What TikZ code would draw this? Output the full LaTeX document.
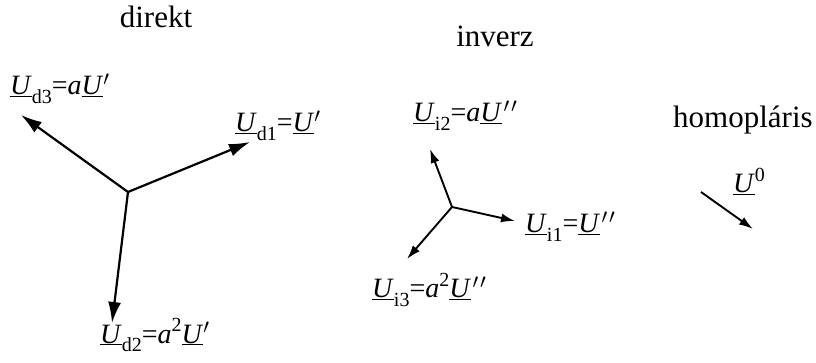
\documentclass[tikz,border=0pt]{standalone}
\usepackage{fontspec}
\setmainfont{Liberation Serif}
\usetikzlibrary{arrows.meta}
\newcommand{\uU}{\underline{\textit{U}}}
\newcommand{\lbsub}[1]{\raisebox{-0.3em}{\fontsize{20}{22}\selectfont #1}}
\newcommand{\lbsup}[1]{\raisebox{0.4em}{\fontsize{20}{22}\selectfont #1}}
\newcommand{\dprime}{\kern1.5pt\ensuremath{'}\kern1.5pt\ensuremath{'}}
\begin{document}
\begin{tikzpicture}[x=1pt,y=-1pt,
  title/.style={font=\fontsize{31}{34}\selectfont, inner sep=0pt, anchor=base},
  lab/.style={font=\fontsize{28}{32}\selectfont, inner sep=0pt, anchor=base west},
  bigvec/.style={line width=2.2pt, -{Latex[length=21pt,width=13pt]}},
  smallvec/.style={line width=1.9pt, -{Latex[length=14pt,width=9pt]}}]
\useasboundingbox (0,0) rectangle (816,363);
% titles
\node[title] (tdir) at (156,28) {direkt};
\node[title] (tinv) at (495,47) {inverz};
\node[title, anchor=base west] (thom) at (673,128) {homopláris};
% direkt
\coordinate (cd) at (128,192);
\coordinate (d1) at (250,142);
\coordinate (d2) at (112,323);
\coordinate (d3) at (21,115);
\draw[bigvec] (cd) -- (d1);
\draw[bigvec] (cd) -- (d2);
\draw[bigvec] (cd) -- (d3);
\node[lab] (ld3) at (10,95) {\uU\lbsub{d3}=\textit{a}\uU\ensuremath{'}};
\node[lab] (ld1) at (235,132) {\uU\lbsub{d1}=\uU\ensuremath{'}};
\node[lab] (ld2) at (100,343) {\uU\lbsub{d2}=\textit{a}\lbsup{2}\uU\ensuremath{'}};
% inverz
\coordinate (ci) at (452,207);
\coordinate (i1) at (515,221);
\coordinate (i2) at (430,149);
\coordinate (i3) at (407,259);
\draw[smallvec] (ci) -- (i1);
\draw[smallvec] (ci) -- (i2);
\draw[smallvec] (ci) -- (i3);
\node[lab] (li2) at (413,122) {\uU\lbsub{i2}=\textit{a}\uU\dprime};
\node[lab] (li1) at (525,233) {\uU\lbsub{i1}=\uU\dprime};
\node[lab] (li3) at (372,298) {\uU\lbsub{i3}=\textit{a}\lbsup{2}\uU\dprime};
% homopolaris
\coordinate (h0) at (701,192);
\coordinate (h1) at (753,229);
\draw[smallvec] (h0) -- (h1);
\node[lab] (lh) at (733,193) {\uU\lbsup{0}};
\end{tikzpicture}
\end{document}
